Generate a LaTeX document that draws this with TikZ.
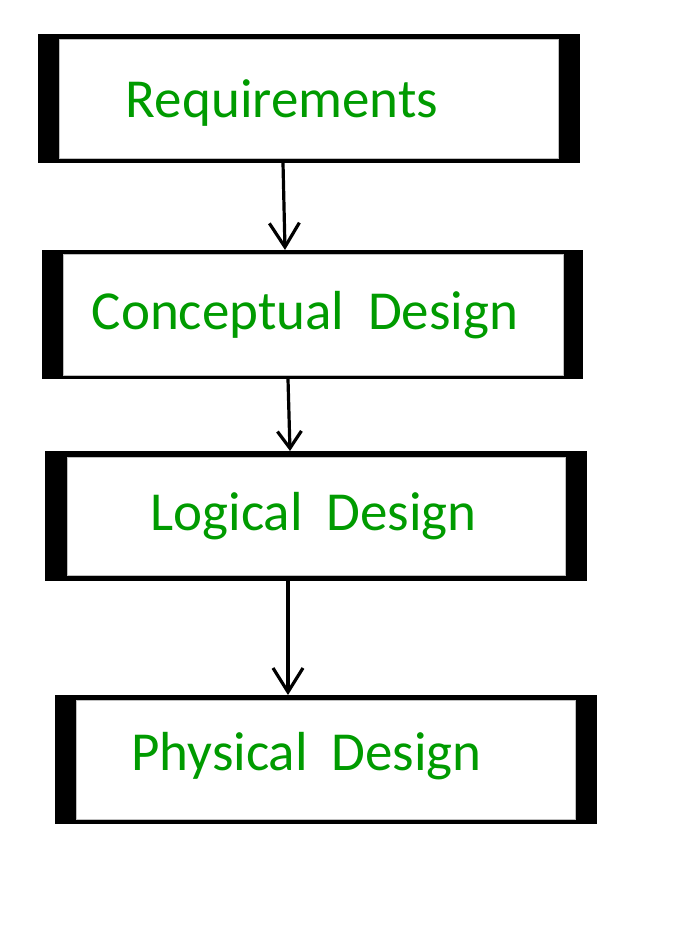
\documentclass[tikz,border=0pt]{standalone}
\usepackage{fontspec}
\setmainfont[WordSpace=1.9]{Carlito}
\usetikzlibrary{arrows.meta}
\definecolor{txtgreen}{RGB}{0,155,0}
\begin{document}
\begin{tikzpicture}[x=1pt,y=-1pt,
  outerbox/.style={fill=black, inner sep=0pt, outer sep=0pt},
  innerbox/.style={fill=white, draw=gray!50, line width=0.6pt, inner sep=0pt, outer sep=0pt},
  lbl/.style={text=txtgreen, font=\fontsize{55}{66}\selectfont, anchor=base, inner sep=0pt},
  arr/.style={line width=3.2pt, -{Straight Barb[length=24pt,width=30pt,line width=3.2pt]}},
  arrsmall/.style={line width=3.2pt, -{Straight Barb[length=17pt,width=24pt,line width=3.2pt]}}]
\useasboundingbox (0,0) rectangle (676,932);
% box 1
\node[outerbox, minimum width=542pt, minimum height=129pt] (r) at (309,98.5) {};
\node[innerbox, minimum width=499pt, minimum height=119pt] (ri) at (308.5,98.5) {};
\node[lbl] (rt) at (282,117) {Requirements};
% box 2
\node[outerbox, minimum width=541pt, minimum height=129pt] (c) at (312.5,314.5) {};
\node[innerbox, minimum width=500pt, minimum height=121pt] (ci) at (313,314.5) {};
\node[lbl] (ct) at (305,329) {Conceptual Design};
% box 3
\node[outerbox, minimum width=542pt, minimum height=130pt] (l) at (316,516) {};
\node[innerbox, minimum width=498pt, minimum height=118pt] (li) at (316,516) {};
\node[lbl] (lt) at (313.5,530) {Logical Design};
% box 4
\node[outerbox, minimum width=542pt, minimum height=129pt] (p) at (326,759.5) {};
\node[innerbox, minimum width=499pt, minimum height=119pt] (pi) at (325.5,759.5) {};
\node[lbl] (pt) at (306.5,770) {Physical Design};
% arrows
\draw[arr] (r.south -| 283,0) -- (c.north -| 285,0);
\draw[arrsmall] (c.south -| 288,0) -- (l.north -| 290,0);
\draw[arr] (l.south -| 288,0) -- (p.north -| 288,0);
\end{tikzpicture}
\end{document}
